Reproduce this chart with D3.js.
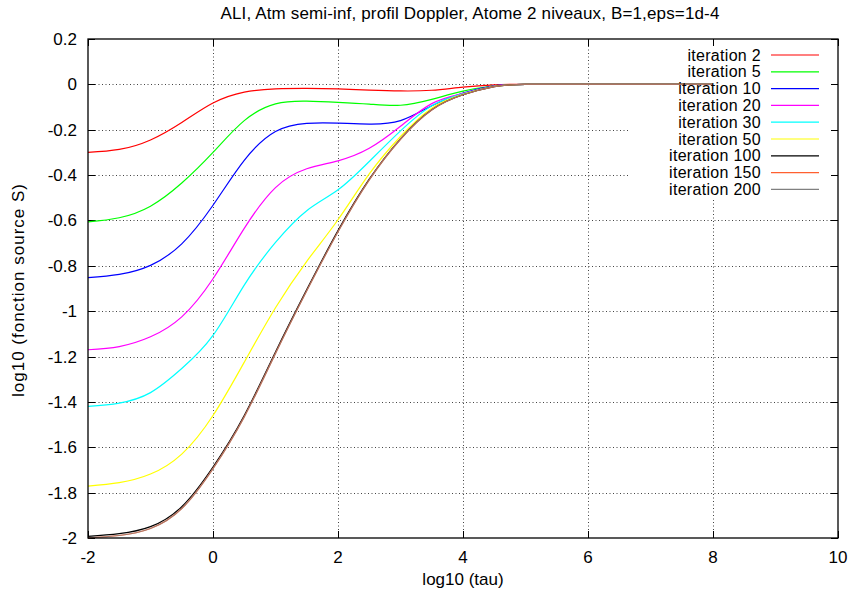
<!DOCTYPE html>
<html>
<head>
<style>
  body { margin: 0; background: #fff; }
  text { font-family: "Liberation Sans", Arial, sans-serif; fill: #000; }
</style>
</head>
<body>
<script src="https://d3js.org/d3.v7.min.js"></script>
<script>
// log10(tau) sample points
var logTau = [-2, -1.5, -1, -0.5, 0, 0.5, 1, 1.5, 2, 2.5, 3, 3.5, 4, 4.5, 5, 6, 7, 8];

// log10 of the source function
var it2   = [-0.300, -0.287, -0.245, -0.168, -0.082, -0.034, -0.020, -0.018, -0.020, -0.025, -0.029, -0.026, -0.012, -0.002, 0, 0, 0, 0];
var it5   = [-0.606, -0.588, -0.537, -0.435, -0.300, -0.160, -0.086, -0.074, -0.079, -0.087, -0.092, -0.066, -0.030, -0.006, 0, 0, 0, 0];
var it10  = [-0.852, -0.838, -0.798, -0.703, -0.533, -0.335, -0.208, -0.172, -0.171, -0.175, -0.160, -0.094, -0.038, -0.007, 0, 0, 0, 0];
var it20  = [-1.170, -1.156, -1.113, -1.025, -0.857, -0.635, -0.455, -0.372, -0.337, -0.282, -0.185, -0.085, -0.040, -0.008, 0, 0, 0, 0];
var it30  = [-1.420, -1.405, -1.359, -1.253, -1.107, -0.885, -0.697, -0.557, -0.465, -0.340, -0.205, -0.094, -0.042, -0.009, 0, 0, 0, 0];
var it50  = [-1.771, -1.756, -1.718, -1.630, -1.460, -1.225, -0.985, -0.780, -0.597, -0.395, -0.230, -0.105, -0.044, -0.009, 0, 0, 0, 0];
var it100 = [-1.993, -1.981, -1.950, -1.862, -1.687, -1.460, -1.180, -0.905, -0.645, -0.418, -0.240, -0.112, -0.046, -0.010, 0, 0, 0, 0];
var it150 = [-1.999, -1.989, -1.958, -1.870, -1.694, -1.466, -1.186, -0.910, -0.650, -0.421, -0.242, -0.113, -0.046, -0.010, 0, 0, 0, 0];
var it200 = [-1.999, -1.989, -1.958, -1.870, -1.694, -1.466, -1.186, -0.910, -0.650, -0.421, -0.242, -0.113, -0.046, -0.010, 0, 0, 0, 0];

var seriesNames = ["iteration 2", "iteration 5", "iteration 10", "iteration 20", "iteration 30",
                   "iteration 50", "iteration 100", "iteration 150", "iteration 200"];
var seriesValues = [it2, it5, it10, it20, it30, it50, it100, it150, it200];
var colors = ["#ff0000", "#00ff00", "#0000ff", "#ff00ff", "#00ffff", "#ffff00", "#000000", "#ff6030", "#808080"];

var xTicks = [-2, 0, 2, 4, 6, 8, 10];
var yTicks = [0.2, 0, -0.2, -0.4, -0.6, -0.8, -1, -1.2, -1.4, -1.6, -1.8, -2];

var W = 850, H = 594;
var pLeft = 88, pRight = 838, pTop = 39, pBottom = 538;

var svg = d3.select("body").append("svg").attr("width", W).attr("height", H);

var x = d3.scaleLinear().domain([-2, 10]).range([pLeft, pRight]);
var y = d3.scaleLinear().domain([-2, 0.2]).range([pBottom, pTop]);

// grid
var grid = svg.append("g").attr("stroke", "#444").attr("stroke-width", 1).attr("stroke-dasharray", "1,2.5");
xTicks.slice(1, -1).forEach(function (t) {
  grid.append("line").attr("x1", x(t) + 0.5).attr("x2", x(t) + 0.5).attr("y1", pTop).attr("y2", pBottom);
});
yTicks.slice(1, -1).forEach(function (t) {
  grid.append("line").attr("x1", pLeft).attr("x2", pRight).attr("y1", Math.round(y(t)) + 0.5).attr("y2", Math.round(y(t)) + 0.5);
});

// key area blanks the grid
svg.append("rect").attr("x", 628).attr("y", pTop + 1).attr("width", pRight - 628 - 1).attr("height", 158).attr("fill", "#fff");

// ticks on all four sides
var tl = 7;
var ticks = svg.append("g").attr("stroke", "#000").attr("stroke-width", 1);
xTicks.forEach(function (t) {
  var px = x(t) + 0.5;
  ticks.append("line").attr("x1", px).attr("x2", px).attr("y1", pBottom).attr("y2", pBottom - tl);
  ticks.append("line").attr("x1", px).attr("x2", px).attr("y1", pTop).attr("y2", pTop + tl);
});
yTicks.forEach(function (t) {
  var py = Math.round(y(t)) + 0.5;
  ticks.append("line").attr("x1", pLeft).attr("x2", pLeft + tl).attr("y1", py).attr("y2", py);
  ticks.append("line").attr("x1", pRight).attr("x2", pRight - tl).attr("y1", py).attr("y2", py);
});

// curves
var line = d3.line()
  .x(function (d, i) { return x(logTau[i]); })
  .y(function (d) { return y(Math.min(d, 0)); })
  .curve(d3.curveNatural);

seriesValues.forEach(function (vals, k) {
  svg.append("path")
    .attr("d", line(vals))
    .attr("fill", "none")
    .attr("stroke", colors[k])
    .attr("stroke-width", 1.2)
    .attr("stroke-opacity", k == 8 ? 0.65 : 1);
});

// border
svg.append("rect").attr("x", pLeft).attr("y", pTop).attr("width", pRight - pLeft).attr("height", pBottom - pTop)
  .attr("fill", "none").attr("stroke", "#000").attr("stroke-width", 1.3);

// tick labels
svg.append("g").selectAll("text").data(xTicks).enter().append("text")
  .attr("x", function (d) { return x(d); })
  .attr("y", 563)
  .attr("text-anchor", "middle")
  .attr("font-size", 17)
  .text(function (d) { return d; });

svg.append("g").selectAll("text").data(yTicks).enter().append("text")
  .attr("x", 77)
  .attr("y", function (d) { return y(d) + 6; })
  .attr("text-anchor", "end")
  .attr("font-size", 17)
  .text(function (d) { return d; });

// key
var key = svg.append("g");
seriesNames.forEach(function (name, k) {
  var ky = 55 + k * 16.8;
  key.append("text").attr("x", 761).attr("y", ky + 5.5).attr("text-anchor", "end")
    .attr("font-size", 16).attr("letter-spacing", 0.3).text(name);
  key.append("line").attr("x1", 771).attr("x2", 819).attr("y1", ky).attr("y2", ky)
    .attr("stroke", colors[k]).attr("stroke-width", 1.2);
});

// titles
svg.append("text").attr("x", 470).attr("y", 19).attr("text-anchor", "middle").attr("font-size", 17)
  .attr("letter-spacing", 0.15)
  .text("ALI, Atm semi-inf, profil Doppler, Atome 2 niveaux, B=1,eps=1d-4");
svg.append("text").attr("x", 463).attr("y", 585).attr("text-anchor", "middle").attr("font-size", 17)
  .text("log10 (tau)");
svg.append("text").attr("transform", "translate(24,290) rotate(-90)").attr("text-anchor", "middle").attr("font-size", 17)
  .attr("letter-spacing", 1)
  .text("log10 (fonction source S)");
</script>
</body>
</html>
